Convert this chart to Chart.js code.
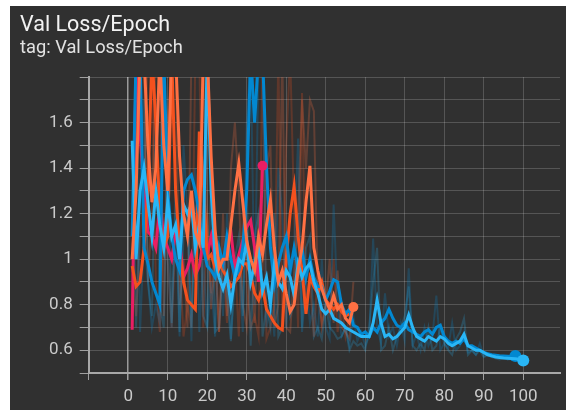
<!DOCTYPE html>
<html><head><meta charset="utf-8">
<script src="https://cdn.jsdelivr.net/npm/chart.js@4"></script>
<style>
html,body{margin:0;padding:0;background:#fff;width:566px;height:410px;overflow:hidden}
#card{position:absolute;left:10px;top:6px;width:556px;height:404px;background:#303030}
#title{position:absolute;left:10px;top:7px;font:400 21.5px/21px Roboto,sans-serif;color:#f2f2f2;white-space:nowrap}
#sub{position:absolute;left:10px;top:32px;font:400 18.3px/18px Roboto,sans-serif;color:#e2e2e2;white-space:nowrap}
#wrap{position:absolute;left:0;top:0;width:556px;height:404px}
</style></head><body>
<div id="card"><div id="wrap"><canvas id="c"></canvas></div><div id="title">Val Loss/Epoch</div><div id="sub">tag: Val Loss/Epoch</div></div>
<script>
// x tick values and labels
const xTicks = [-10,0,10,20,30,40,50,60,70,80,90,100];
const xLabels = ['','0','10','20','30','40','50','60','70','80','90','100'];
const yTicks = [0.5,0.6,0.7,0.8,0.9,1.0,1.1,1.2,1.3,1.4,1.5,1.6,1.7,1.8];
const yLabels = ['','0.6','','0.8','','1','','1.2','','1.4','','1.6','',''];

// smoothed series (first epoch = 1)
const pinkVals = [0.69,1.90,1.55,1.30,1.12,1.10,1.05,1.25,1.10,1.05,1.00,1.12,1.08,0.92,0.96,1.02,0.93,0.97,1.08,1.02,1.10,1.00,1.00,0.98,1.05,1.12,0.96,1.02,1.08,1.14,1.17,1.05,0.90,1.41];
const orangeVals = [1.00,1.30,1.90,1.90,1.50,1.25,1.40,1.90,1.50,1.30,1.90,1.90,1.45,1.20,1.10,1.30,1.12,1.07,1.90,1.90,1.45,1.13,0.96,1.00,1.00,1.15,1.30,1.42,1.25,1.08,1.00,0.95,1.10,1.02,1.15,1.26,1.05,0.90,0.95,0.85,0.77,0.80,0.95,1.05,1.25,1.41,1.05,0.95,0.87,0.82,0.78,0.84,0.78,0.80,0.74,0.72,0.79];
const redVals = [0.97,0.88,0.90,1.05,1.30,1.90,1.60,1.20,1.05,1.10,1.90,1.30,1.05,0.90,0.82,0.80,0.78,1.56,1.35,1.00,1.02,0.96,1.00,0.95,0.92,0.88,0.90,0.92,0.98,0.98,0.93,0.85,0.82,0.88,0.78,0.75,0.72,0.70,0.69,1.00,1.20,1.32,1.10,0.95,0.76,0.92,0.88,0.85,0.90,0.82,0.80,0.78,0.80,0.77,0.75,0.76];
const blueVals = [1.10,1.90,1.90,1.05,0.98,0.90,0.85,0.80,1.90,1.30,1.10,1.00,0.95,1.30,1.35,1.37,1.30,1.20,1.05,0.97,0.95,0.92,1.05,0.98,1.10,1.00,0.92,0.95,1.05,1.30,1.90,1.60,1.90,1.90,1.41,1.05,0.89,0.98,1.05,1.10,0.95,1.05,0.96,1.05,0.92,1.00,0.92,0.88,0.88,0.82,0.86,0.91,0.90,0.80,0.76,0.78,0.71,0.70,0.67,0.68,0.66,0.70,0.68,0.72,0.74,0.78,0.74,0.71,0.70,0.72,0.69,0.68,0.67,0.66,0.68,0.69,0.67,0.70,0.71,0.66,0.64,0.63,0.64,0.63,0.65,0.62,0.62,0.61,0.60,0.59,0.585,0.58,0.578,0.576,0.575,0.574,0.572,0.575];
const lightBlueVals = [1.52,1.00,1.30,1.40,1.25,1.10,1.30,1.15,1.05,1.25,1.10,1.15,1.00,1.24,1.20,1.24,1.05,1.15,1.05,1.90,1.30,1.00,0.92,0.87,0.93,0.80,0.92,1.00,0.98,1.08,0.90,0.98,1.05,0.86,0.92,0.80,0.98,0.90,0.87,0.95,0.92,0.84,0.98,0.92,0.96,0.98,0.90,0.85,0.78,0.76,0.78,0.74,0.73,0.72,0.70,0.69,0.68,0.67,0.66,0.66,0.66,0.72,0.82,0.72,0.66,0.67,0.65,0.66,0.68,0.70,0.755,0.70,0.66,0.65,0.64,0.66,0.65,0.64,0.66,0.65,0.63,0.62,0.63,0.64,0.67,0.62,0.61,0.60,0.60,0.59,0.58,0.575,0.57,0.568,0.566,0.565,0.564,0.563,0.56,0.555];

// raw (unsmoothed) series
const blueRaw = [1.20,1.90,0.68,1.10,0.90,0.70,0.80,0.72,1.90,1.00,0.70,1.20,0.66,1.50,1.20,0.64,1.40,0.68,1.00,0.70,0.90,0.66,1.10,0.75,1.20,0.65,0.90,1.00,0.68,1.60,1.90,0.80,1.90,1.90,0.70,0.85,0.66,1.40,1.20,0.70,0.90,1.05,1.53,0.68,0.90,0.72,0.80,0.66,1.00,0.70,0.65,1.24,0.80,0.66,0.70,0.62,0.75,0.64,0.68,0.62,0.66,1.09,0.70,0.63,0.85,0.66,0.70,0.62,0.72,0.64,0.96,0.62,0.67,0.60,0.70,0.62,0.66,0.84,0.60,0.63,0.61,0.72,0.60,0.62,0.68,0.59,0.60,0.58,0.63,0.575,0.58,0.57,0.575,0.565,0.57,0.56,0.565,0.56];
const lightBlueRaw = [1.50,0.70,1.30,1.70,0.90,0.75,1.60,0.80,0.70,1.50,0.72,1.30,0.68,1.10,1.20,0.70,1.20,1.30,0.75,0.70,1.40,0.68,0.70,1.00,0.85,0.64,1.00,1.10,0.75,1.30,0.62,1.10,1.20,0.66,0.80,0.70,1.20,0.66,0.70,1.10,0.75,0.80,1.20,0.70,1.05,1.10,0.66,0.70,0.65,0.80,0.70,0.68,0.65,0.66,0.70,0.60,0.64,0.62,0.63,0.60,0.70,0.90,1.05,0.60,0.62,0.70,0.60,0.66,0.70,0.75,0.88,0.62,0.60,0.63,0.60,0.70,0.60,0.62,0.70,0.63,0.60,0.58,0.65,0.68,0.74,0.58,0.60,0.58,0.60,0.57,0.58,0.57,0.565,0.56,0.565,0.56,0.56,0.555,0.555,0.55];
const orangeRaw = [1.10,1.90,1.90,1.90,0.90,1.20,1.90,1.90,0.75,1.60,1.90,1.90,0.80,1.00,0.70,1.90,1.90,1.90,1.90,1.20,0.78,1.00,0.68,1.20,0.75,1.40,1.60,1.30,0.80,0.70,1.00,0.72,1.20,0.95,1.40,1.50,0.70,0.80,1.90,0.70,0.68,0.95,1.20,1.70,1.40,1.70,1.65,0.85,0.72,0.80,1.00,0.72,0.95,0.70,0.68,0.65,0.90];
const redRaw = [0.95,0.75,1.10,1.30,1.90,1.90,0.90,0.68,1.20,1.00,0.70,1.10,1.00,0.66,0.80,0.70,1.90,1.90,0.70,1.20,0.85,1.10,0.68,1.00,0.72,0.90,1.00,0.66,1.20,0.90,0.70,0.75,0.66,1.90,0.65,0.70,0.80,1.90,0.68,1.50,1.90,1.20,0.70,1.73,0.80,0.90,0.66,0.95,0.70,0.80,0.75,1.00,0.68,0.80,0.66,0.75];

const toPts = (vals) => vals.map((v, i) => ({x: i + 1, y: v}));
function line(vals, color, width, dotR) {
  return {
    data: toPts(vals), borderColor: color, backgroundColor: color, borderWidth: width,
    pointRadius: (c) => (dotR && c.dataIndex === vals.length - 1) ? dotR : 0,
    pointBorderWidth: 0, pointHoverRadius: 0, tension: 0, fill: false
  };
}
function endDot(vals, color, r) {
  const last = vals.length - 1;
  return {data: [{x: last + 1, y: vals[last]}], showLine: false, backgroundColor: color,
    borderColor: color, pointRadius: r, pointBorderWidth: 0};
}

const datasets = [
  endDot(pinkVals, '#e91e63', 5),
  line(orangeVals, '#ff7043', 3, 5),
  line(lightBlueVals, '#29b6f6', 3, 6),
  line(blueVals, '#0288d1', 3, 6),
  line(redVals, '#f4511e', 3, 0),
  line(pinkVals, '#e91e63', 3, 0),
  line(lightBlueRaw, 'rgba(41,182,246,0.22)', 2, 0),
  line(blueRaw, 'rgba(2,136,209,0.25)', 2, 0),
  line(orangeRaw, 'rgba(255,112,67,0.24)', 2, 0),
  line(redRaw, 'rgba(244,81,30,0.24)', 2, 0)
];

const tickFont = {family: 'Roboto', size: 17};
new Chart(document.getElementById('c'), {
  type: 'line',
  data: {datasets},
  options: {
    responsive: true, maintainAspectRatio: false, animation: false,
    layout: {padding: {top: 71, right: 0, left: 0, bottom: 0}},
    plugins: {legend: {display: false}, tooltip: {enabled: false}},
    scales: {
      x: {
        type: 'linear', min: -10, max: 109.3,
        afterBuildTicks: (s) => { s.ticks = xTicks.map(v => ({value: v})); },
        afterFit: (s) => { s.height = 37; },
        ticks: {color: '#cacaca', font: tickFont, padding: 7, maxRotation: 0, autoSkip: false,
          callback: (v, i) => xLabels[i]},
        grid: {color: (c) => (c.tick && c.tick.value === 0) ? '#9a9a9a' : 'rgba(255,255,255,0.18)',
          lineWidth: (c) => (c.tick && c.tick.value === 0) ? 1.5 : 1,
          tickColor: '#a0a0a0', tickLength: 7},
        border: {color: '#a8a8a8', width: 2}
      },
      y: {
        min: 0.5, max: 1.8,
        afterBuildTicks: (s) => { s.ticks = yTicks.map(v => ({value: v})); },
        afterFit: (s) => { s.width = 78.7; },
        ticks: {color: '#cacaca', font: tickFont, padding: 7, autoSkip: false,
          callback: (v, i) => yLabels[i]},
        grid: {color: 'rgba(255,255,255,0.18)', tickColor: '#a0a0a0', tickLength: 9},
        border: {color: '#a8a8a8', width: 2}
      }
    }
  }
});
</script>
</body></html>
